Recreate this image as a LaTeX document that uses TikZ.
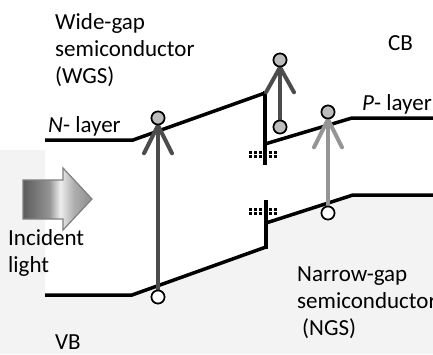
\documentclass[tikz,border=0pt]{standalone}
\usepackage{fontspec}
\setmainfont{Carlito}
\usetikzlibrary{calc}
\pgfdeclarehorizontalshading{lightshade}{100bp}{rgb(0bp)=(0.35,0.35,0.35); rgb(25bp)=(0.36,0.36,0.36); rgb(44bp)=(0.58,0.58,0.58); rgb(52bp)=(0.93,0.93,0.93); rgb(62bp)=(0.68,0.68,0.68); rgb(75bp)=(0.55,0.55,0.55); rgb(100bp)=(0.55,0.55,0.55)}
\definecolor{bggray}{HTML}{F3F3F3}
\definecolor{darkarrow}{HTML}{4C4C4C}
\definecolor{lightarrow}{HTML}{959595}
\definecolor{efill}{HTML}{BDBDBD}
\begin{document}
\begin{tikzpicture}[x=1pt,y=-1pt,
  lbl/.style={font=\fontsize{23}{27}\selectfont, inner sep=0pt, align=left, anchor=base west},
  band/.style={line width=3.5pt, line join=miter},
  elec/.style={circle, draw=black, line width=1.6pt, fill=efill, minimum size=13pt, inner sep=0pt},
  hole/.style={circle, draw=black, line width=1.6pt, fill=white, minimum size=13pt, inner sep=0pt},
  trans/.style={line width=4pt, line cap=round, line join=round},
  dotsq/.style={fill=black}
]
\useasboundingbox (0,0) rectangle (433,354);
\fill[white] (0,0) rectangle (433,354);
% shaded valence region
\fill[bggray] (0,150) -- (45,150) -- (45,295) -- (132,295) -- (266,247) -- (266,223) -- (268,223) -- (353,195) -- (433,195) -- (433,354) -- (0,354) -- cycle;

% conduction band
\draw[band] (45,140) -- (133,140) -- (265,93);
\draw[band] (265,91) -- (265,165);
\draw[band] (265,144) -- (352,118) -- (433,118);
% valence band
\draw[band] (45,295) -- (132,295) -- (266,247);
\draw[band] (266,249) -- (266,200);
\draw[band] (266,223) -- (353,195) -- (433,195);

% interface states
\foreach \xx in {250,255,260,270,275}{
  \foreach \yy in {152,156.5}{
    \fill[dotsq] (\xx-1.5,\yy-1.5) rectangle (\xx+1.5,\yy+1.5);
  }
  \foreach \yy in {209,213.5}{
    \fill[dotsq] (\xx-1.5,\yy-1.5) rectangle (\xx+1.5,\yy+1.5);
  }
}

% incident light arrow
\path[shading=lightshade, draw=gray, line width=1.2pt, line join=miter]
  (23,180) -- (63,180) -- (63,168) -- (92,199) -- (63,230) -- (63,219) -- (23,219) -- cycle;

% carriers
\node[elec] (e1) at (158,118) {};
\node[hole] (h1) at (158,297) {};
\node[elec] (e2t) at (280,60) {};
\node[elec] (e2b) at (280,127) {};
\node[elec] (e3) at (328,112) {};
\node[hole] (h3) at (328,213) {};

\draw[trans, darkarrow] (h1) -- (e1);
\draw[trans, darkarrow] ($(e1.south)+(-14,28)$) -- (e1.south) -- ($(e1.south)+(14,28)$);
\draw[trans, darkarrow] (e2b) -- (e2t);
\draw[trans, darkarrow] ($(e2t.south)+(-14,25)$) -- (e2t.south) -- ($(e2t.south)+(14,25)$);
\draw[trans, lightarrow] (h3) -- (e3);
\draw[trans, lightarrow] ($(e3.south)+(-14,28)$) -- (e3.south) -- ($(e3.south)+(14,28)$);
\node[elec] at (e1) {};
\node[elec] at (e2t) {};
\node[elec] at (e2b) {};
\node[elec] at (e3) {};
\node[hole] at (h1) {};
\node[hole] at (h3) {};

% labels
\node[lbl] (wgs) at (55,83) {Wide-gap\\semiconductor\\(WGS)};
\node[lbl] (cb) at (388,50) {CB};
\node[lbl] (nl) at (48,132) {\textit{N}- layer};
\node[lbl] (pl) at (362,110) {\textit{P}- layer};
\node[lbl] (inc) at (8,272) {Incident\\light};
\node[lbl] (ngs) at (297,335) {Narrow-gap\\semiconductor\\\hspace{5pt}(NGS)};
\node[lbl] (vb) at (55,349) {VB};
\end{tikzpicture}
\end{document}
